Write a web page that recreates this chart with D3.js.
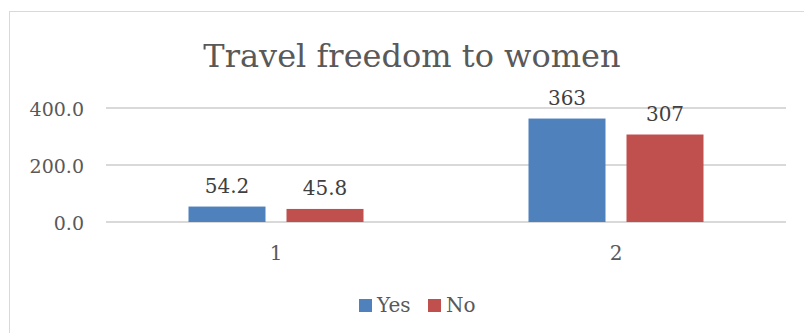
<!DOCTYPE html>
<html>
<head>
<meta charset="utf-8">
<script src="https://cdn.jsdelivr.net/npm/d3@7"></script>
<style>
  html, body { margin: 0; padding: 0; background: #fff; }
  svg { display: block; }
</style>
</head>
<body>
<svg id="chart" width="804" height="333"></svg>
<script>
// Chart data
const categories = ["1", "2"];
const seriesNames = ["Yes", "No"];
const yesValues = [54.2, 363];
const noValues = [45.8, 307];
const yesLabels = ["54.2", "363"];
const noLabels = ["45.8", "307"];
const yTicks = [0, 200, 400];

const colors = { Yes: "#4F81BD", No: "#C0504D" };
const font = "'DejaVu Serif', 'Liberation Serif', serif";
const textColor = "#595959";

const svg = d3.select("#chart");
const W = 804, H = 333;

// Chart frame
svg.append("rect")
  .attr("x", 9.5).attr("y", 11.5)
  .attr("width", W + 10).attr("height", H + 10)
  .attr("fill", "#fff").attr("stroke", "#D9D9D9").attr("stroke-width", 1);

const plot = { left: 106, right: 786, top: 108, bottom: 222 };

const x0 = d3.scaleBand().domain(categories).range([plot.left, plot.right]).paddingInner(0).paddingOuter(0);
const y = d3.scaleLinear().domain([0, 400]).range([plot.bottom, plot.top]);

// Gridlines
svg.append("g").selectAll("line").data(yTicks).join("line")
  .attr("x1", plot.left).attr("x2", plot.right)
  .attr("y1", d => y(d)).attr("y2", d => y(d))
  .attr("stroke", "#D9D9D9").attr("stroke-width", 2);

// Y axis labels
const yAxis = d3.axisLeft(y).tickValues(yTicks).tickFormat(d3.format(".1f")).tickSize(0).tickPadding(0);
const yg = svg.append("g").attr("transform", `translate(84,0)`).call(yAxis);
yg.select(".domain").remove();
yg.selectAll("text")
  .attr("font-family", font).attr("font-size", 19).attr("fill", textColor).attr("dy", "0.38em");

// Bars
const barW = 77, gap = 21;
const offset = (x0.bandwidth() - (2 * barW + gap)) / 2;
const rows = categories.map((c, i) => [
  { cat: c, name: "Yes", value: yesValues[i], label: yesLabels[i], k: 0 },
  { cat: c, name: "No", value: noValues[i], label: noLabels[i], k: 1 }
]).flat();

const bx = d => x0(d.cat) + offset + d.k * (barW + gap);

svg.append("g").selectAll("rect").data(rows).join("rect")
  .attr("x", bx)
  .attr("y", d => y(d.value))
  .attr("width", barW)
  .attr("height", d => y(0) - y(d.value))
  .attr("fill", d => colors[d.name]);

// Value labels
svg.append("g").selectAll("text").data(rows).join("text")
  .attr("x", d => bx(d) + barW / 2)
  .attr("y", d => y(d.value) - 14)
  .attr("text-anchor", "middle")
  .attr("font-family", font).attr("font-size", 20).attr("fill", "#404040")
  .text(d => d.label);

// Category labels
const xAxis = d3.axisBottom(x0).tickSize(0).tickPadding(0);
const xg = svg.append("g").attr("transform", `translate(0,${plot.bottom})`).call(xAxis);
xg.select(".domain").remove();
xg.selectAll("text")
  .attr("font-family", font).attr("font-size", 20).attr("fill", textColor)
  .attr("y", 38).attr("dy", 0);

// Title
svg.append("text")
  .attr("x", 412).attr("y", 67)
  .attr("text-anchor", "middle")
  .attr("font-family", font).attr("font-size", 32).attr("fill", textColor)
  .text("Travel freedom to women");

// Legend
const legend = svg.append("g");
const legendItems = [
  { name: "Yes", x: 359 },
  { name: "No", x: 428 }
];
legendItems.forEach(it => {
  legend.append("rect").attr("x", it.x).attr("y", 299).attr("width", 13).attr("height", 13)
    .attr("fill", colors[it.name]);
  legend.append("text").attr("x", it.x + 18).attr("y", 312)
    .attr("font-family", font).attr("font-size", 20).attr("fill", textColor)
    .text(it.name);
});
</script>
</body>
</html>
